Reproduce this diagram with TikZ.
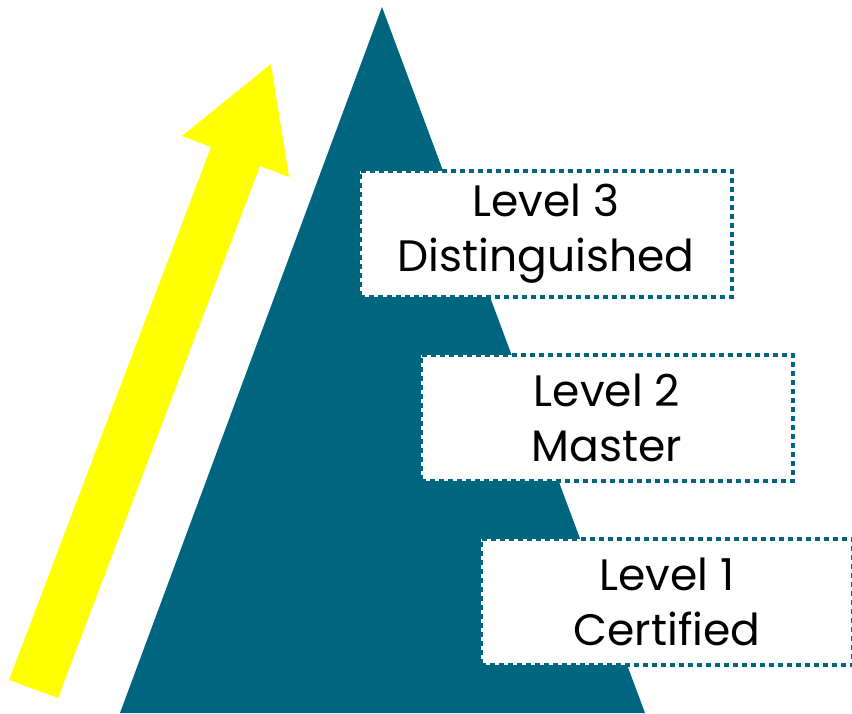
\documentclass[tikz,border=0pt]{standalone}
\usepackage{fontspec}
\setmainfont{Poppins}
\definecolor{tealc}{RGB}{0,102,128}
\definecolor{yel}{RGB}{255,255,0}
\tikzset{
  lvl/.style={draw=tealc, fill=white, line width=4pt, dash pattern=on 5pt off 4pt,
    minimum width=372pt, minimum height=126pt, inner sep=0pt, align=center,
    font=\fontsize{44}{55}\selectfont, text=black}
}
\begin{document}
\begin{tikzpicture}[x=1pt,y=-1pt]
\useasboundingbox (0,0) rectangle (852,713);
% pyramid
\fill[tealc] (382,7) -- (645,713) -- (120,713) -- cycle;
% arrow
\fill[yel] (9,680) -- (211,147) -- (182,136) -- (271,64) -- (289,177) -- (260,166) -- (58,698) -- cycle;
% levels
\node[lvl] (l3) at (546,234) {Level 3\\Distinguished};
\node[lvl] (l2) at (607,418) {Level 2\\Master};
\node[lvl] (l1) at (667,602) {Level 1\\Certified};
\end{tikzpicture}
\end{document}
